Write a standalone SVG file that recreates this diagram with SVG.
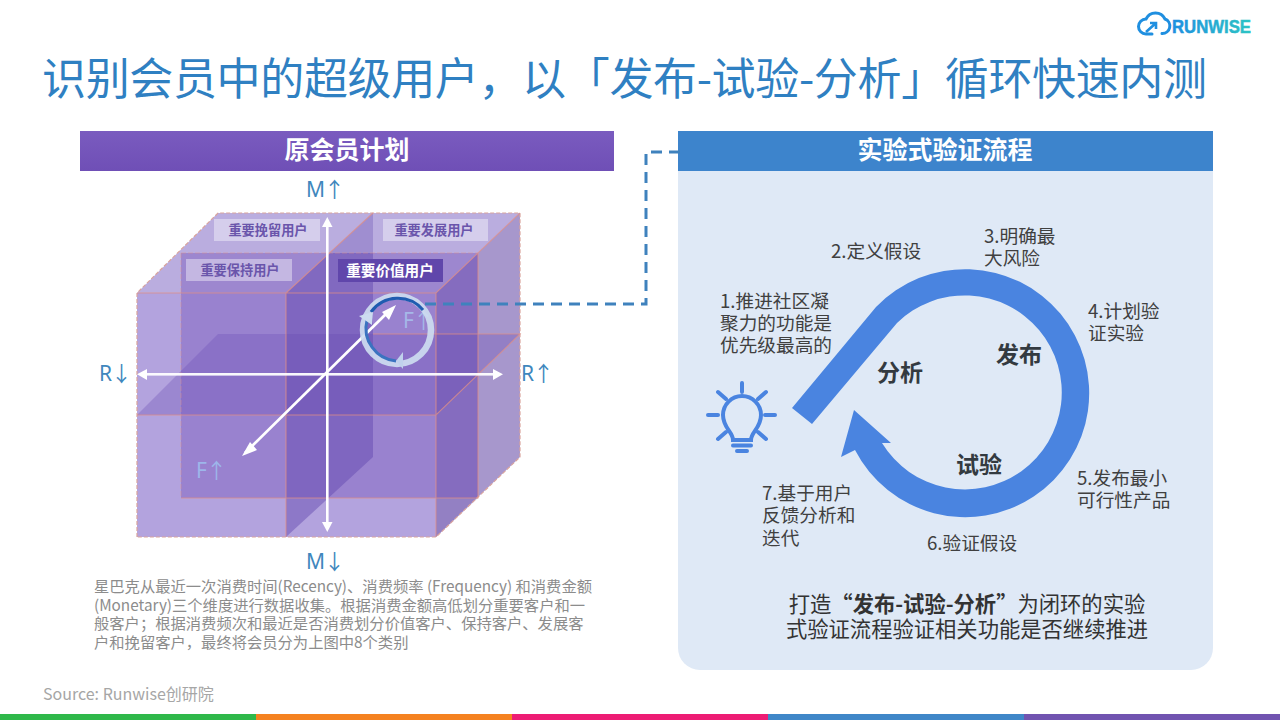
<svg xmlns="http://www.w3.org/2000/svg" width="1280" height="720" viewBox="0 0 1280 720">
<defs>
<linearGradient id="logoG" x1="0" x2="1" y1="0" y2="0"><stop offset="0" stop-color="#1f8fe0"/><stop offset="1" stop-color="#2cc4c4"/></linearGradient>
<linearGradient id="hdrP" x1="0" x2="0" y1="0" y2="1"><stop offset="0" stop-color="#7a5bbf"/><stop offset="1" stop-color="#6f4fb6"/></linearGradient>
</defs>
<style>
text{font-family:"Noto Sans CJK SC","Noto Sans",sans-serif}
.step{font-size:18.67px;fill:#404040}
.lab{font-size:23px;font-weight:700;fill:#333a40}
.cat{font-size:13.2px;font-weight:700;fill:#6a55ab}
.axis{font-size:21px;fill:#3f87bd;letter-spacing:-1px;font-family:"Noto Sans","Noto Sans CJK SC",sans-serif}
.note{font-size:15.3px;fill:#8c8c8c}
.con{font-size:21.3px;fill:#333}
.hd{font-size:25px;font-weight:700;fill:#fff}
.edge{stroke:#e08f86;stroke-width:1.1;fill:none;stroke-opacity:.75}
.soft{stroke:#e08f86;stroke-width:1;fill:none;stroke-opacity:.45;stroke-dasharray:5 2}
.dash{stroke:#d9a39c;stroke-width:1.2;fill:none;stroke-dasharray:4 2}
</style>
<rect width="1280" height="720" fill="#fff"/>
<g id="title"><text x="42" y="95" font-size="44" fill="#2f80c2" textLength="1165">识别会员中的超级用户，以「发布-试验-分析」循环快速内测</text></g>
<g id="logo">
<path d="M1152 34H1146A7.500 7.500 0 0 1 1146 19A10.500 10.500 0 0 1 1165 19A7.500 7.500 0 0 1 1162 33.500" fill="none" stroke="#1f8fe0" stroke-width="3" stroke-linecap="round"/>
<path d="M1146 32L1156 23M1150 23H1156V29" fill="none" stroke="#1f8fe0" stroke-width="2.600"/>
<text x="1172" y="33" font-size="18" font-weight="700" fill="url(#logoG)" stroke="url(#logoG)" stroke-width=".5" textLength="79" lengthAdjust="spacingAndGlyphs" style="font-family:'Liberation Sans',sans-serif">RUNWISE</text>
</g>
<g id="left-header"><rect x="80" y="131" width="534" height="40" fill="url(#hdrP)"/><text class="hd" x="347" y="159" text-anchor="middle">原会员计划</text></g>
<g id="cube">
<rect x="218" y="213" width="302" height="244" fill="#b6a8dc"/>
<polygon points="436,293 520,213 520,457 436,537" fill="#a797cc"/>
<polygon points="137,293 218,213 520,213 436,293" fill="#baaddf"/>
<rect x="137" y="293" width="299" height="244" fill="#b3a3de"/>
<rect x="181" y="253" width="297" height="245" fill="#7f62c0" fill-opacity=".5"/>
<polygon points="137,415 218,334 520,334 436,415" fill="#7152b8" fill-opacity=".35"/>
<polygon points="286,293 373,213 373,457 286,537" fill="#6044ae" fill-opacity=".45"/>
<polygon points="330,253 373,213 373,253" fill="#baaddf" fill-opacity=".35"/>
<polygon points="436,293 478,253 478,498 436,537" fill="#6044ae" fill-opacity=".28"/>
<path class="dash" d="M137 537V293L218 213H520V457L436 537H137"/>
<path class="soft" d="M181 253V498M181 253H478"/>
<path class="edge" d="M137 293H436L520 213M478 253V498H181M286 293V537M436 293V537M137 415H436L520 334H373M286 293L373 213"/>
<g id="cat1"><rect x="214" y="219" width="106" height="22" fill="#fff" fill-opacity=".4"/><text class="cat" x="268" y="235" text-anchor="middle">重要挽留用户</text></g>
<g id="cat2"><rect x="383" y="219" width="105" height="22" fill="#fff" fill-opacity=".4"/><text class="cat" x="434" y="235" text-anchor="middle">重要发展用户</text></g>
<g id="cat3"><rect x="186" y="259" width="106" height="22" fill="#fff" fill-opacity=".4"/><text class="cat" x="240" y="275" text-anchor="middle">重要保持用户</text></g>
<g id="cat4"><rect x="338" y="259" width="105" height="23" fill="#6046ab"/><text class="cat" x="390" y="276" text-anchor="middle" style="fill:#fff;font-size:14.6px">重要价值用户</text></g>
<g id="axes" fill="#fff" stroke="none">
<rect x="326" y="224" width="2.600" height="302"/><polygon points="327.300,217 322,227 332.500,227"/><polygon points="327.300,532 322,522 332.500,522"/>
<rect x="146" y="373" width="350" height="2.600" fill-opacity=".95"/><polygon points="137,374.300 147,369 147,380"/><polygon points="493,369 493,380 503,374.300"/>
<path d="M245 453L390 310" stroke="#fff" stroke-width="2.800"/><polygon points="242,456 250,442 257,450"/><polygon points="396,305 382,312 389,320"/>
</g>
<text class="axis" x="403" y="328" style="fill:#a5b8e8">F↑</text>
<g id="cycle" fill="none">
<circle cx="397" cy="330" r="34" stroke="#cddcf0" stroke-width="6.500" stroke-opacity=".92"/>
<path d="M371 312A33 33 0 0 1 423 310" stroke="#1f5cb0" stroke-width="3"/>
<path d="M367 320A33 33 0 0 0 396 361" stroke="#3a73c0" stroke-width="3"/>
<polygon points="359,316 373,312 372,325" fill="#cddcf0"/><polygon points="403,352 403,369 396,361" fill="#c0d2ec"/>
</g>
</g>
<g id="axis-labels">
<text class="axis" x="325" y="197" text-anchor="middle">M↑</text>
<text class="axis" x="115" y="381" text-anchor="middle">R↓</text>
<text class="axis" x="537" y="381" text-anchor="middle">R↑</text>
<text class="axis" x="211" y="478" text-anchor="middle" style="fill:#9db6ea">F↑</text>
<text class="axis" x="325" y="569" text-anchor="middle">M↓</text>
</g>
<g id="note">
<text class="note" x="94" y="592">星巴克从最近一次消费时间(Recency)、消费频率 (Frequency) 和消费金额</text>
<text class="note" x="94" y="611">(Monetary)三个维度进行数据收集。根据消费金额高低划分重要客户和一</text>
<text class="note" x="94" y="629">般客户；根据消费频次和最近是否消费划分价值客户、保持客户、发展客</text>
<text class="note" x="94" y="648">户和挽留客户，最终将会员分为上图中8个类别</text>
</g>
<g id="right-panel">
<path d="M678 171H1213V648a22 22 0 0 1-22 22H700a22 22 0 0 1-22-22Z" fill="#dfe9f6"/>
<rect x="678" y="131" width="535" height="40" fill="#3d84cc"/>
<text class="hd" x="945" y="159" text-anchor="middle">实验式验证流程</text>
</g>
<g id="connectors">
<path d="M425 304H646V152H683" fill="none" stroke="#3f82bd" stroke-width="3" stroke-dasharray="11 7"/>
</g>
<g id="loop">
<path d="M792 408L876 307A124 124 0 1 1 855 450L841 457L854 410L891 443L882 443A97 97 0 1 0 897 323L812 424Z" fill="#4a84e0"/>
<text class="lab" x="900" y="381" text-anchor="middle">分析</text>
<text class="lab" x="1019" y="363" text-anchor="middle">发布</text>
<text class="lab" x="979" y="473" text-anchor="middle">试验</text>
</g>
<g id="bulb" fill="none" stroke="#4a84e0" stroke-width="4" stroke-linecap="round">
<path d="M733 440c0-8-10-12-10-25a19 19 0 0 1 38 0c0 13-10 17-10 25Z"/>
<path d="M733 445.500H751M737 451H747"/>
<path d="M742 383V392M718 392L726 399M766 392L758 399M708 415H718M775 415H765M718 439L726 432M766 439L758 432"/>
</g>
<g id="steps">
<text class="step" x="720" y="308">1.推进社区凝</text><text class="step" x="720" y="330">聚力的功能是</text><text class="step" x="720" y="352">优先级最高的</text>
<text class="step" x="831" y="258">2.定义假设</text>
<text class="step" x="984" y="243">3.明确最</text><text class="step" x="984" y="265">大风险</text>
<text class="step" x="1088" y="318">4.计划验</text><text class="step" x="1088" y="340">证实验</text>
<text class="step" x="1077" y="485">5.发布最小</text><text class="step" x="1077" y="507">可行性产品</text>
<text class="step" x="927" y="550">6.验证假设</text>
<text class="step" x="762" y="500">7.基于用户</text><text class="step" x="762" y="522">反馈分析和</text><text class="step" x="762" y="545">迭代</text>
</g>
<g id="conclusion">
<text class="con" x="967" y="612" text-anchor="middle">打造<tspan font-weight="700">“发布-试验-分析”</tspan>为闭环的实验</text>
<text class="con" x="967" y="637" text-anchor="middle">式验证流程验证相关功能是否继续推进</text>
</g>
<text id="source" x="43" y="700" font-size="16" fill="#a6a6a6">Source: Runwise创研院</text>
<g id="footer">
<rect x="0" y="714" width="256" height="6" fill="#2fb84a"/><rect x="256" y="714" width="256" height="6" fill="#f58220"/><rect x="512" y="714" width="256" height="6" fill="#ed1c74"/><rect x="768" y="714" width="256" height="6" fill="#3f87c8"/><rect x="1024" y="714" width="256" height="6" fill="#7154b0"/>
</g>
</svg>
